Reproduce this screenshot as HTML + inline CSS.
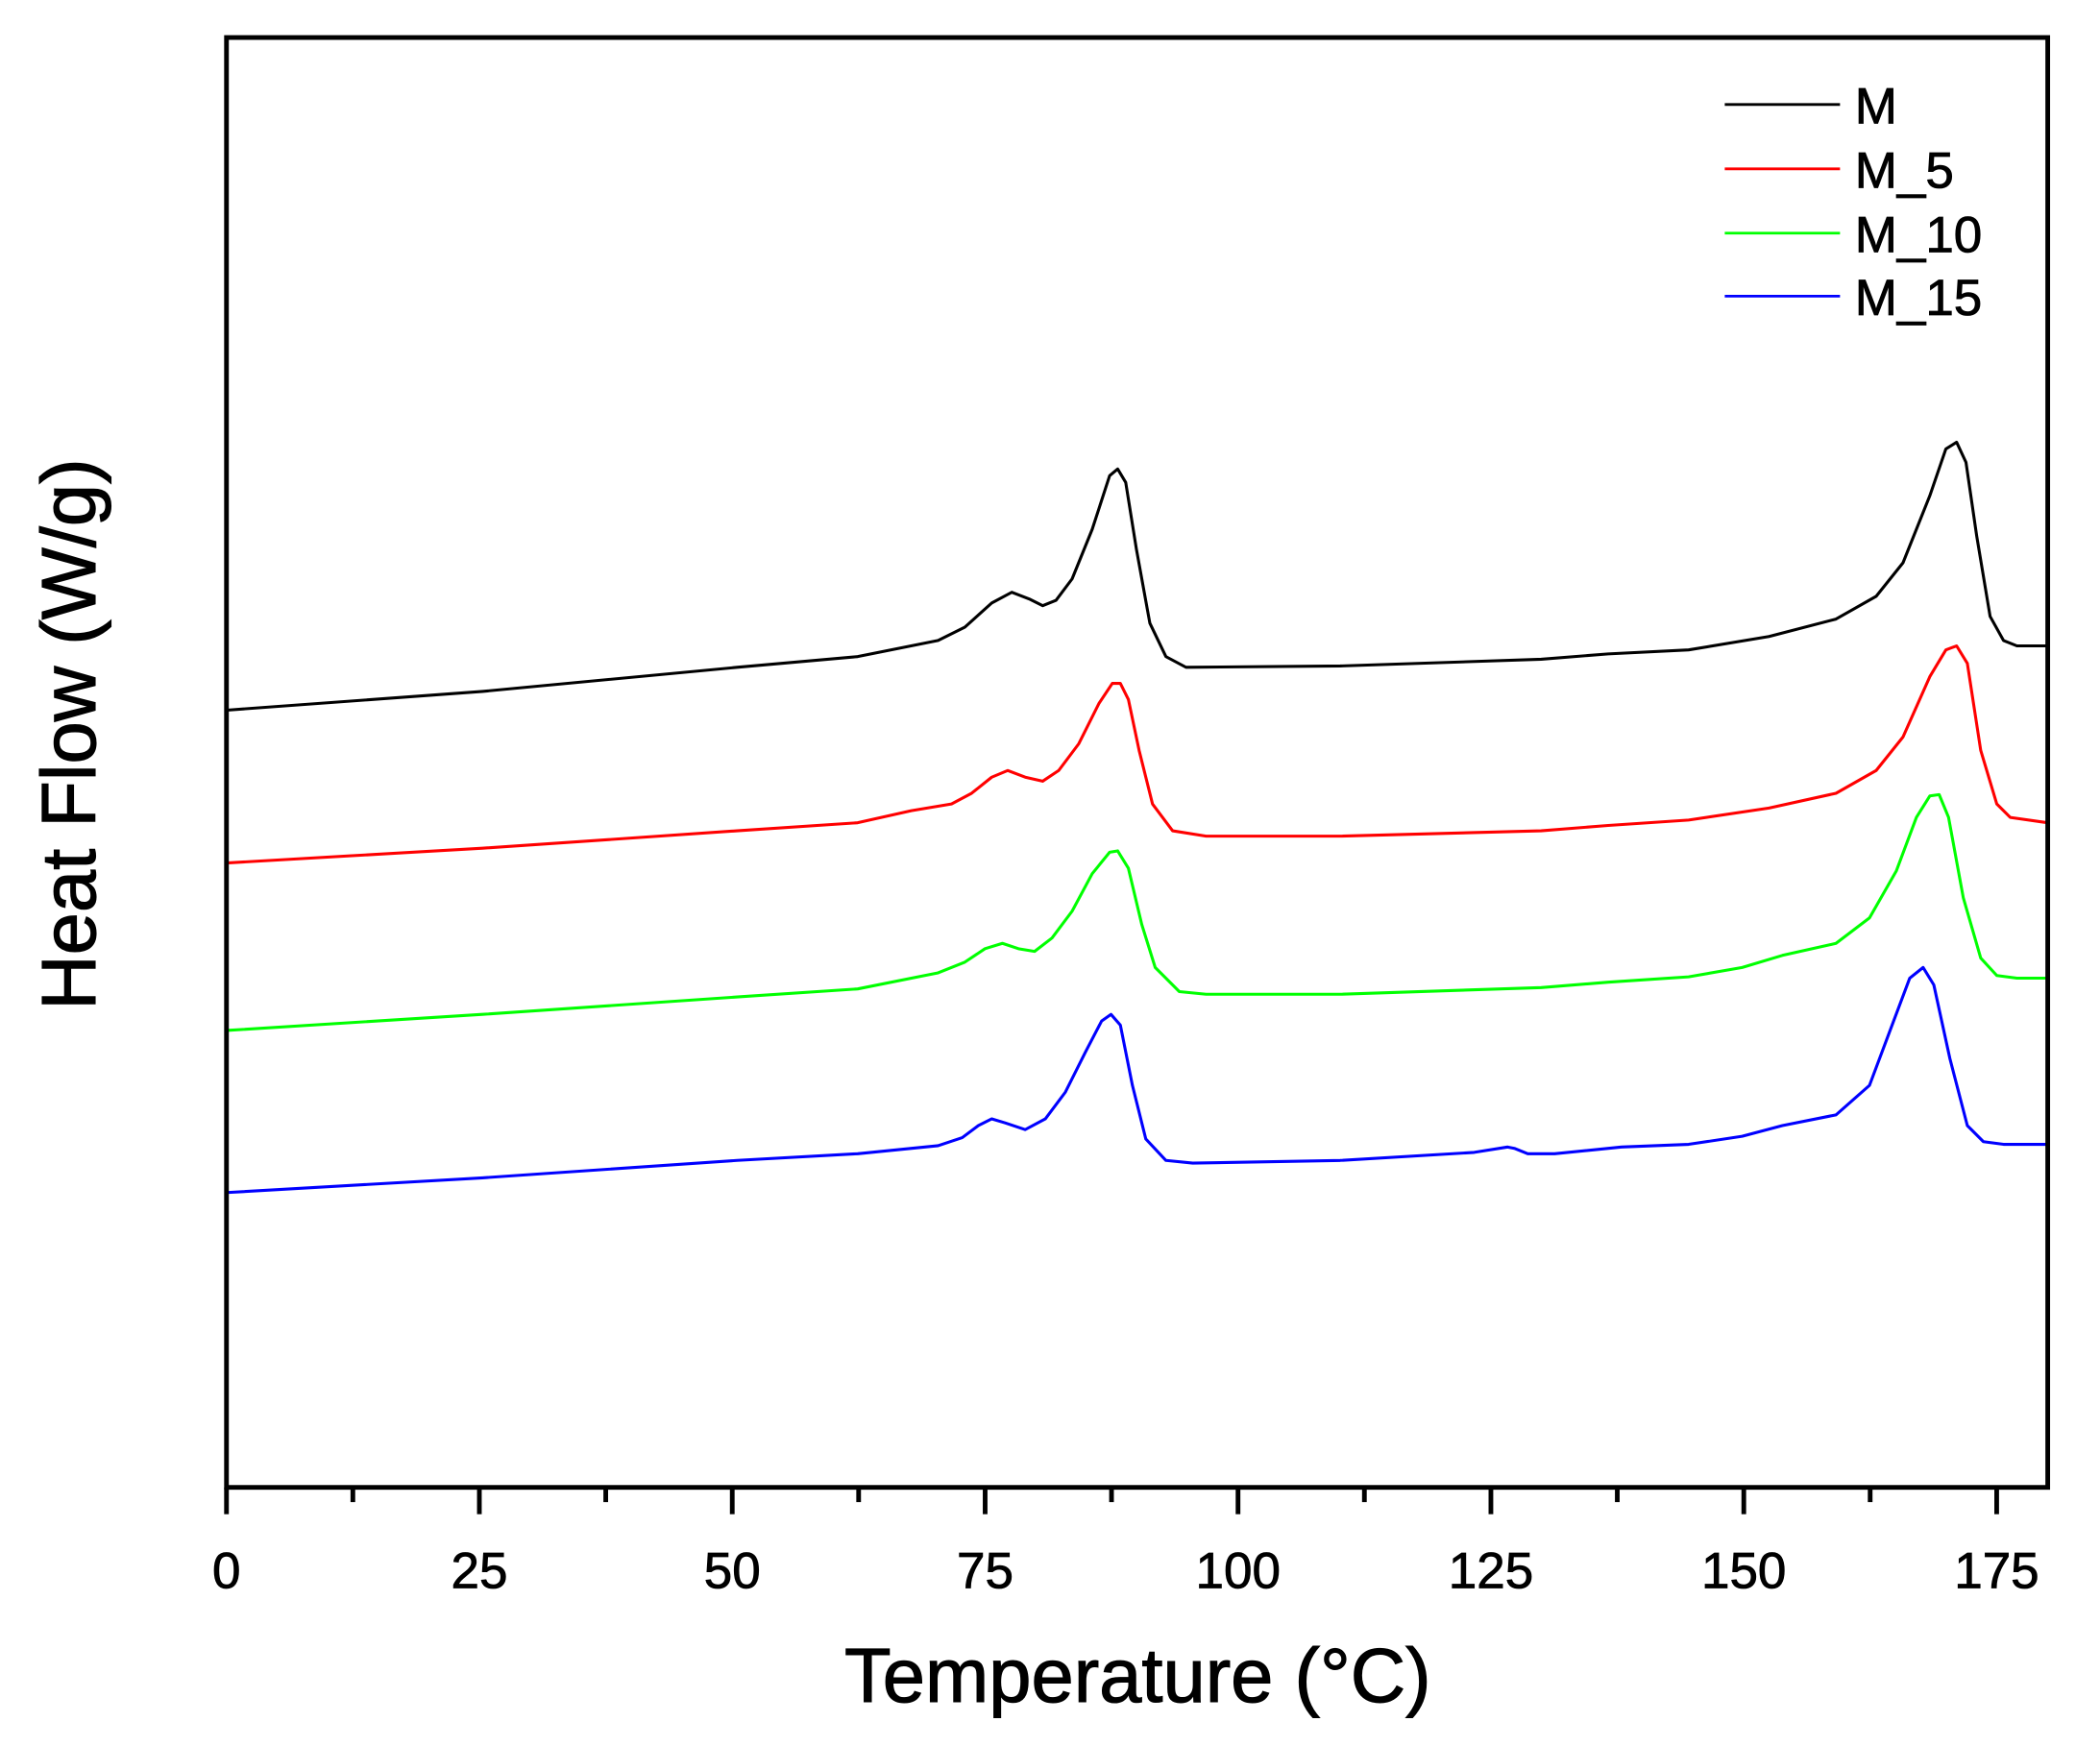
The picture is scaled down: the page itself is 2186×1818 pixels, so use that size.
<!DOCTYPE html>
<html><head><meta charset="utf-8"><style>html,body{margin:0;padding:0;background:#fff}svg{display:block}</style></head>
<body>
<svg width="2186" height="1818" viewBox="0 0 1567 1303" preserveAspectRatio="none" xmlns="http://www.w3.org/2000/svg" font-family="Liberation Sans, Arial, sans-serif">
<rect width="1567" height="1303" fill="#fff"/>
<g fill="none" stroke-width="2.2" stroke-linejoin="round">
<polyline stroke="#000" points="169,530 360,516 550,498 640,490 700,478 720,468 740,450 755,442 768,447 778,452 788,448 800,432 815,395 828,355 834,350 840,360 848,410 858,465 870,490 885,498 1000,497 1150,492 1200,488 1260,485 1320,475 1370,462 1400,445 1420,420 1440,370 1452,335 1460,330 1467,345 1475,400 1485,460 1495,478 1505,482 1528,482"/>
<polyline stroke="#f00" points="169,644 360,633 550,620 640,614 680,605 710,600 725,592 740,580 752,575 765,580 778,583 790,575 805,555 820,525 830,510 836,510 842,522 850,560 860,600 875,620 900,624 1000,624 1150,620 1200,616 1260,612 1320,603 1370,592 1400,575 1420,550 1440,505 1452,485 1460,482 1468,495 1478,560 1490,600 1500,610 1528,614"/>
<polyline stroke="#0f0" points="169,769 360,757 550,744 640,738 700,726 720,718 735,708 748,704 760,708 772,710 785,700 800,680 815,652 828,636 834,635 842,648 852,690 862,722 880,740 900,742 1000,742 1150,737 1200,733 1260,729 1300,722 1330,713 1370,704 1395,685 1415,650 1430,610 1440,594 1447,593 1454,610 1465,670 1478,715 1490,728 1505,730 1528,730"/>
<polyline stroke="#00f" points="169,890 360,879 550,866 640,861 700,855 718,849 730,840 740,835 750,838 765,843 780,835 795,815 810,785 822,762 829,757 836,765 845,810 855,850 870,866 890,868 1000,866 1100,860 1125,856 1130,857 1140,861 1160,861 1210,856 1260,854 1300,848 1330,840 1370,832 1395,810 1410,770 1425,730 1435,722 1443,735 1455,790 1468,840 1480,852 1495,854 1528,854"/>
</g>
<rect x="169" y="28" width="1359" height="1082" fill="none" stroke="#000" stroke-width="3.5"/>
<g stroke="#000" stroke-width="3.5">
<line x1="169" y1="1110" x2="169" y2="1130"/><line x1="357.7" y1="1110" x2="357.7" y2="1130"/><line x1="546.4" y1="1110" x2="546.4" y2="1130"/><line x1="735.1" y1="1110" x2="735.1" y2="1130"/><line x1="923.8" y1="1110" x2="923.8" y2="1130"/><line x1="1112.5" y1="1110" x2="1112.5" y2="1130"/><line x1="1301.2" y1="1110" x2="1301.2" y2="1130"/><line x1="1489.9" y1="1110" x2="1489.9" y2="1130"/>
<line x1="263.3" y1="1110" x2="263.3" y2="1121"/><line x1="452" y1="1110" x2="452" y2="1121"/><line x1="640.7" y1="1110" x2="640.7" y2="1121"/><line x1="829.4" y1="1110" x2="829.4" y2="1121"/><line x1="1018.1" y1="1110" x2="1018.1" y2="1121"/><line x1="1206.8" y1="1110" x2="1206.8" y2="1121"/><line x1="1395.5" y1="1110" x2="1395.5" y2="1121"/>
</g>
<g font-size="38" text-anchor="middle" fill="#000" stroke="#000" stroke-width="0.6">
<text x="169" y="1185">0</text><text x="357.7" y="1185">25</text><text x="546.4" y="1185">50</text><text x="735.1" y="1185">75</text><text x="923.8" y="1185">100</text><text x="1112.5" y="1185">125</text><text x="1301.2" y="1185">150</text><text x="1489.9" y="1185">175</text>
</g>
<g stroke="#000" stroke-width="0.8">
<text x="849" y="1270" font-size="57" text-anchor="middle">Temperature (°C)</text>
<text transform="translate(71,548) rotate(-90)" font-size="57" text-anchor="middle">Heat Flow (W/g)</text>
</g>
<g stroke-width="2">
<line x1="1287" y1="78" x2="1373" y2="78" stroke="#000"/>
<line x1="1287" y1="126" x2="1373" y2="126" stroke="#f00"/>
<line x1="1287" y1="174" x2="1373" y2="174" stroke="#0f0"/>
<line x1="1287" y1="221" x2="1373" y2="221" stroke="#00f"/>
</g>
<g font-size="38" fill="#000" stroke="#000" stroke-width="0.6">
<text x="1384" y="92">M</text><text x="1384" y="140">M_5</text><text x="1384" y="188">M_10</text><text x="1384" y="235">M_15</text>
</g>
</svg>
</body></html>
